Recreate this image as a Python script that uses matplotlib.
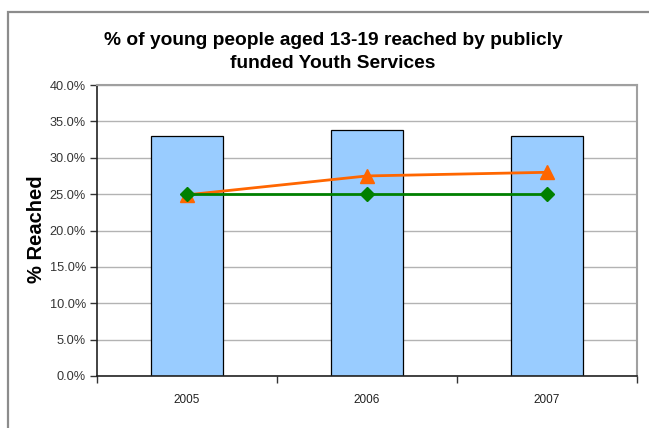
import matplotlib.pyplot as plt
from matplotlib.patches import Rectangle
from matplotlib.ticker import FuncFormatter, MultipleLocator

plt.rcParams['font.family'] = ['Liberation Sans', 'DejaVu Sans']

# data
years = ['2005', '2006', '2007']
reached = [33.05, 33.8, 32.95]      # bars
actual_line = [24.9, 27.5, 28.0]    # orange triangles
target_line = [25.0, 25.0, 25.0]    # green diamonds

fig = plt.figure(figsize=(6.49, 4.28), dpi=100)
# outer chart frame
fig.patches.append(Rectangle((8 / 649, -0.1), 1.2, 1.1 - 12 / 428,
                             transform=fig.transFigure, fill=False,
                             edgecolor='#8c8c8c', lw=1.6))

ax = fig.add_axes([97 / 649, 1 - 376 / 428, 540 / 649, 291 / 428])
x = range(len(years))

ax.bar(x, reached, 0.4, color='#99ccff', edgecolor='black', lw=0.9, zorder=2)
ax.plot(x, actual_line, color='#ff6600', lw=2, marker='^', ms=10, zorder=3)
ax.plot(x, target_line, color='#008000', lw=2, marker='D', ms=7, zorder=4)

ax.set_xlim(-0.5, 2.5)
ax.set_ylim(0, 40)
ax.yaxis.set_major_locator(MultipleLocator(5))
ax.yaxis.set_major_formatter(FuncFormatter(lambda v, p: f'{v:.1f}%'))
ax.grid(axis='y', color='#b3b3b3', lw=1, zorder=0)

# category ticks sit between the groups, labels centred under the bars
ax.set_xticks([-0.5, 0.5, 1.5, 2.5])
ax.set_xticklabels([])
ax.set_xticks(list(x), minor=True)
ax.set_xticklabels(years, minor=True, fontsize=8.5, color='#222222')
ax.tick_params(axis='x', which='minor', length=0, pad=13)
ax.tick_params(axis='x', which='major', length=5, width=1, color='#333333')
ax.tick_params(axis='y', length=5, width=1, color='#333333',
               labelsize=9.2, labelcolor='#333333', pad=3)

for s in ['top', 'right']:
    ax.spines[s].set_color('#a0a0a0')
    ax.spines[s].set_linewidth(1.5)
for s in ['left', 'bottom']:
    ax.spines[s].set_color('#222222')
    ax.spines[s].set_linewidth(1.2)

fig.text(333 / 649, 1 - 52 / 428,
         '% of young people aged 13-19 reached by publicly\nfunded Youth Services',
         ha='center', va='center', fontsize=13.8, fontweight='bold',
         linespacing=1.42)
fig.text(37 / 649, 1 - 229 / 428, '% Reached', rotation=90, ha='center',
         va='center', fontsize=14.5, fontweight='bold')

fig.savefig('out.png', dpi=100)
